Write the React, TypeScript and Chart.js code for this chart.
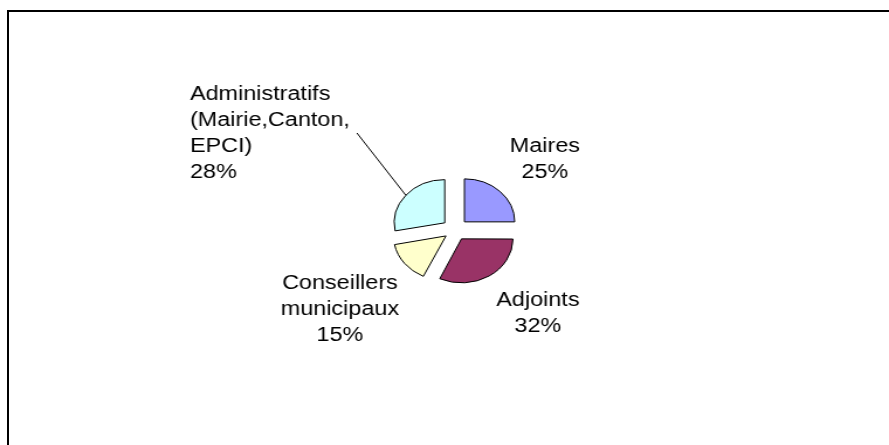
import React, { useEffect, useRef } from "react";
import { Chart, registerables } from "chart.js";

Chart.register(...registerables);

// ---- data ----
const categories = ["Maires", "Adjoints", "Conseillers municipaux", "Administratifs (Mairie,Canton, EPCI)"];
const labelLines = [["Maires"], ["Adjoints"], ["Conseillers", "municipaux"], ["Administratifs", "(Mairie,Canton,", "EPCI)"]];
const values = [25, 32, 15, 28];
const colors = ["#9999FF", "#993366", "#FFFFCC", "#CCFFFF"];

// ---- layout (screen px) ----
const SX = 1.17; // horizontal stretch of the original picture
const CANVAS_W = Math.round(889 / SX);
const CANVAS_H = 445;
const LINE_H = 26;
const labelLayout = [
  { x: 545, y: 152, align: "center" },
  { x: 538, y: 305.5, align: "center" },
  { x: 340, y: 288.5, align: "center" },
  { x: 190, y: 99.5, align: "left" },
];
const leaderStart = { x: 357, y: 133 };

const labelPlugin = {
  id: "pieLabels",
  afterDatasetsDraw(chart: any) {
    const ctx = chart.ctx;
    const meta = chart.getDatasetMeta(0);
    const total = values.reduce((a, b) => a + b, 0);
    ctx.save();
    ctx.font = '20px "Liberation Sans", Arial, sans-serif';
    ctx.fillStyle = "#000";
    ctx.textBaseline = "alphabetic";
    labelLines.forEach((lines, i) => {
      const lay = labelLayout[i];
      const all = [...lines, Math.round((values[i] / total) * 100) + "%"];
      ctx.textAlign = lay.align;
      all.forEach((t, j) => {
        ctx.fillText(t, lay.x / SX, lay.y + j * LINE_H);
      });
    });
    // leader line for the Administratifs slice
    const arc = meta.data[3];
    const p = arc.getProps(["x", "y", "startAngle", "endAngle", "outerRadius", "circumference"], true);
    const mid = (p.startAngle + p.endAngle) / 2;
    const off = (arc.options.offset || 0) / 4;
    const fix = 1 - Math.sin(Math.min(Math.PI, p.circumference));
    const trans = off * (1 + fix);
    const ex = p.x + Math.cos(mid) * (trans + p.outerRadius);
    const ey = p.y + Math.sin(mid) * (trans + p.outerRadius);
    ctx.strokeStyle = "#000";
    ctx.lineWidth = 1;
    ctx.beginPath();
    ctx.moveTo(leaderStart.x / SX, leaderStart.y);
    ctx.lineTo(ex, ey);
    ctx.stroke();
    ctx.restore();
  },
};

export default function App() {
  const ref = useRef<HTMLCanvasElement>(null);
  useEffect(() => {
    if (!ref.current) return;
    const chart = new Chart(ref.current, {
      type: "pie",
      data: {
        labels: categories,
        datasets: [
          {
            data: values,
            backgroundColor: colors,
            borderColor: "#000",
            borderWidth: 1,
            offset: [46, 42, 38.6, 45],
          },
        ],
      },
      options: {
        animation: false,
        responsive: false,
        maintainAspectRatio: false,
        devicePixelRatio: 1,
        events: [],
        radius: 43,
        layout: { padding: { left: 2 * (455 / SX) - CANVAS_W, right: 0, top: 2 * 230 - CANVAS_H, bottom: 0 } },
        plugins: {
          legend: { display: false },
          tooltip: { enabled: false },
          title: { display: false },
        },
      } as any,
      plugins: [labelPlugin],
    });
    return () => chart.destroy();
  }, []);

  return (
    <div style={{ position: "fixed", left: 0, top: 0, width: 889, height: 445, overflow: "hidden", background: "#fff" }}>
      <div
        style={{
          position: "absolute",
          left: 7,
          top: 10,
          width: 1200,
          height: 1200,
          borderLeft: "2px solid #000",
          borderTop: "2px solid #000",
        }}
      />
      <canvas
        ref={ref}
        width={CANVAS_W}
        height={CANVAS_H}
        style={{ position: "absolute", left: 0, top: 0, width: 889, height: 445, display: "block" }}
      />
    </div>
  );
}
